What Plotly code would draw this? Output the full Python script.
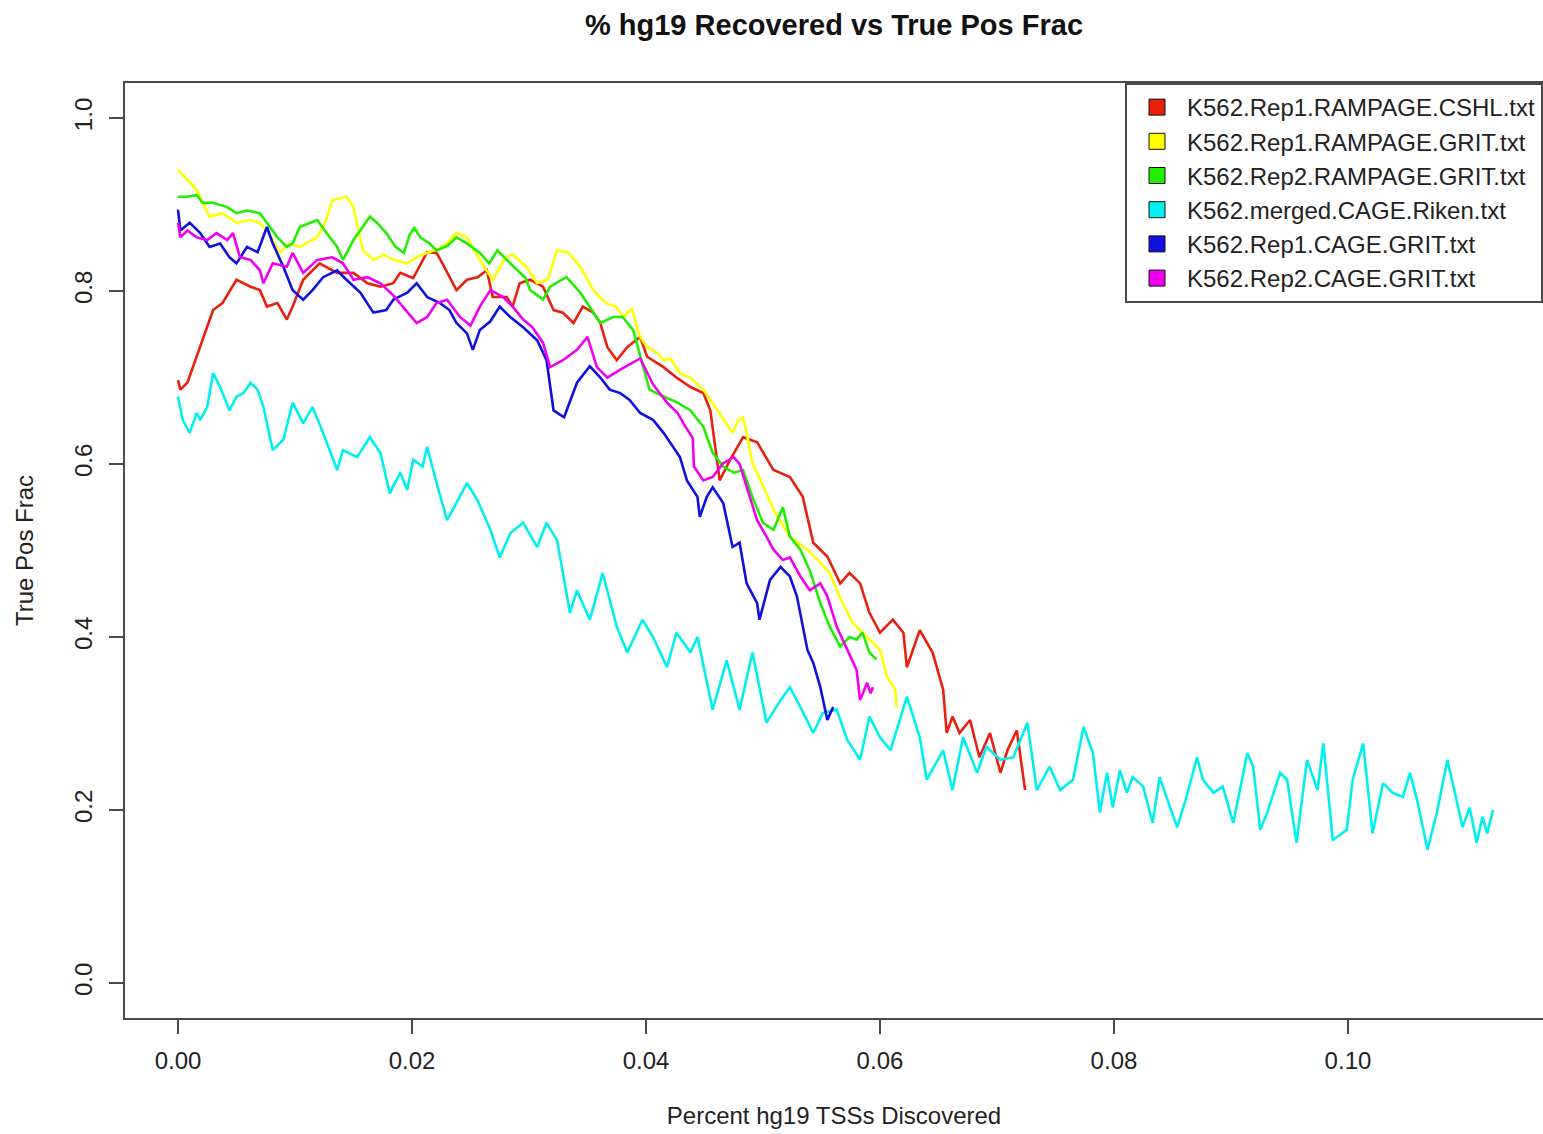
import plotly.graph_objects as go

# ---------------- data ----------------
series_names = [
    "K562.Rep1.RAMPAGE.CSHL.txt",
    "K562.Rep1.RAMPAGE.GRIT.txt",
    "K562.Rep2.RAMPAGE.GRIT.txt",
    "K562.merged.CAGE.Riken.txt",
    "K562.Rep1.CAGE.GRIT.txt",
    "K562.Rep2.CAGE.GRIT.txt",
]
series_colors = ["#e8200c", "#ffff00", "#22ee00", "#00f0f0", "#1010e0", "#f000f0"]

red_x = [0.0000, 0.0002, 0.0008, 0.0016, 0.0030, 0.0038, 0.0050, 0.0062, 0.0070, 0.0076,
         0.0085, 0.0093, 0.0098, 0.0107, 0.0121, 0.0136, 0.0150, 0.0162, 0.0173, 0.0184,
         0.0190, 0.0201, 0.0213, 0.0221, 0.0226, 0.0238, 0.0247, 0.0256, 0.0264, 0.0269,
         0.0281, 0.0286, 0.0292, 0.0301, 0.0312, 0.0321, 0.0329, 0.0338, 0.0346, 0.0355,
         0.0361, 0.0367, 0.0375, 0.0384, 0.0395, 0.0401, 0.0415, 0.0426, 0.0438, 0.0449,
         0.0455, 0.0463, 0.0472, 0.0483, 0.0495, 0.0509, 0.0523, 0.0534, 0.0543, 0.0555,
         0.0566, 0.0574, 0.0583, 0.0591, 0.0600, 0.0611, 0.0620, 0.0623, 0.0634, 0.0645,
         0.0654, 0.0657, 0.0662, 0.0668, 0.0677, 0.0685, 0.0694, 0.0703, 0.0709, 0.0717,
         0.0722, 0.0724]
red_y = [0.697, 0.686, 0.694, 0.724, 0.778, 0.786, 0.813, 0.805, 0.801, 0.782,
         0.786, 0.767, 0.782, 0.813, 0.832, 0.821, 0.821, 0.809, 0.805, 0.809,
         0.821, 0.815, 0.845, 0.844, 0.832, 0.801, 0.813, 0.816, 0.824, 0.793,
         0.793, 0.782, 0.809, 0.813, 0.805, 0.778, 0.775, 0.763, 0.782, 0.775,
         0.763, 0.735, 0.720, 0.735, 0.747, 0.724, 0.712, 0.700, 0.689, 0.682,
         0.662, 0.581, 0.605, 0.631, 0.625, 0.593, 0.585, 0.562, 0.509, 0.493,
         0.462, 0.474, 0.462, 0.428, 0.405, 0.420, 0.405, 0.365, 0.408, 0.382,
         0.339, 0.289, 0.308, 0.289, 0.304, 0.261, 0.289, 0.243, 0.269, 0.292,
         0.243, 0.223]

yellow_x = [0.0000, 0.0008, 0.0016, 0.0027, 0.0038, 0.0050, 0.0062, 0.0070, 0.0078, 0.0087,
            0.0095, 0.0104, 0.0119, 0.0126, 0.0132, 0.0144, 0.0150, 0.0158, 0.0167, 0.0176,
            0.0184, 0.0196, 0.0205, 0.0213, 0.0224, 0.0230, 0.0238, 0.0247, 0.0258, 0.0269,
            0.0280, 0.0286, 0.0298, 0.0307, 0.0316, 0.0324, 0.0333, 0.0344, 0.0355, 0.0366,
            0.0374, 0.0381, 0.0388, 0.0393, 0.0395, 0.0401, 0.0410, 0.0415, 0.0421, 0.0429,
            0.0438, 0.0449, 0.0457, 0.0462, 0.0469, 0.0474, 0.0479, 0.0483, 0.0486, 0.0491,
            0.0503, 0.0509, 0.0523, 0.0538, 0.0549, 0.0557, 0.0568, 0.0577, 0.0589, 0.0600,
            0.0606, 0.0613, 0.0614]
yellow_y = [0.940, 0.928, 0.917, 0.886, 0.890, 0.879, 0.882, 0.879, 0.866, 0.844,
            0.855, 0.851, 0.862, 0.880, 0.905, 0.909, 0.897, 0.847, 0.836, 0.842,
            0.836, 0.832, 0.840, 0.844, 0.850, 0.855, 0.867, 0.862, 0.836, 0.813,
            0.839, 0.842, 0.828, 0.809, 0.813, 0.847, 0.845, 0.828, 0.801, 0.786,
            0.782, 0.770, 0.780, 0.755, 0.747, 0.735, 0.728, 0.720, 0.722, 0.705,
            0.700, 0.686, 0.670, 0.659, 0.645, 0.636, 0.651, 0.654, 0.636, 0.601,
            0.566, 0.547, 0.516, 0.501, 0.486, 0.474, 0.439, 0.416, 0.400, 0.385,
            0.354, 0.339, 0.319]

green_x = [0.0000, 0.0008, 0.0016, 0.0021, 0.0030, 0.0042, 0.0050, 0.0059, 0.0070, 0.0076,
           0.0085, 0.0093, 0.0098, 0.0104, 0.0113, 0.0119, 0.0127, 0.0136, 0.0141, 0.0150,
           0.0164, 0.0170, 0.0178, 0.0186, 0.0193, 0.0198, 0.0202, 0.0207, 0.0215, 0.0221,
           0.0230, 0.0238, 0.0247, 0.0258, 0.0266, 0.0273, 0.0281, 0.0290, 0.0297, 0.0301,
           0.0312, 0.0318, 0.0332, 0.0344, 0.0352, 0.0361, 0.0372, 0.0380, 0.0389, 0.0397,
           0.0403, 0.0415, 0.0427, 0.0438, 0.0449, 0.0457, 0.0466, 0.0475, 0.0483, 0.0491,
           0.0500, 0.0509, 0.0517, 0.0523, 0.0532, 0.0540, 0.0549, 0.0557, 0.0566, 0.0574,
           0.0580, 0.0585, 0.0591, 0.0597]
green_y = [0.909, 0.909, 0.911, 0.902, 0.902, 0.897, 0.890, 0.893, 0.890, 0.879,
           0.862, 0.851, 0.855, 0.874, 0.879, 0.882, 0.867, 0.851, 0.836, 0.859,
           0.886, 0.879, 0.867, 0.851, 0.844, 0.865, 0.873, 0.862, 0.855, 0.847,
           0.852, 0.862, 0.855, 0.844, 0.832, 0.847, 0.836, 0.824, 0.815, 0.801,
           0.790, 0.805, 0.816, 0.798, 0.782, 0.763, 0.770, 0.770, 0.755, 0.717,
           0.686, 0.678, 0.671, 0.662, 0.643, 0.613, 0.597, 0.590, 0.593, 0.562,
           0.532, 0.524, 0.550, 0.516, 0.501, 0.477, 0.439, 0.412, 0.389, 0.400,
           0.397, 0.405, 0.382, 0.374]

cyan_x = [0.0000, 0.0004, 0.0010, 0.0016, 0.0019, 0.0025, 0.0030, 0.0036, 0.0044, 0.0050,
          0.0056, 0.0062, 0.0068, 0.0073, 0.0081, 0.0090, 0.0098, 0.0107, 0.0115, 0.0124,
          0.0136, 0.0141, 0.0153, 0.0164, 0.0173, 0.0181, 0.0190, 0.0196, 0.0201, 0.0209,
          0.0213, 0.0221, 0.0230, 0.0238, 0.0247, 0.0256, 0.0267, 0.0275, 0.0284, 0.0295,
          0.0307, 0.0315, 0.0324, 0.0335, 0.0341, 0.0352, 0.0363, 0.0375, 0.0384, 0.0397,
          0.0406, 0.0418, 0.0426, 0.0438, 0.0444, 0.0457, 0.0469, 0.0480, 0.0491, 0.0503,
          0.0515, 0.0523, 0.0532, 0.0543, 0.0551, 0.0563, 0.0572, 0.0583, 0.0591, 0.0600,
          0.0609, 0.0623, 0.0634, 0.0640, 0.0649, 0.0654, 0.0662, 0.0671, 0.0683, 0.0691,
          0.0703, 0.0714, 0.0726, 0.0734, 0.0745, 0.0754, 0.0765, 0.0774, 0.0782, 0.0788,
          0.0794, 0.0799, 0.0805, 0.0811, 0.0816, 0.0825, 0.0833, 0.0839, 0.0848, 0.0854,
          0.0862, 0.0871, 0.0876, 0.0885, 0.0893, 0.0902, 0.0914, 0.0919, 0.0925, 0.0931,
          0.0942, 0.0948, 0.0956, 0.0965, 0.0974, 0.0979, 0.0987, 0.0999, 0.1004, 0.1013,
          0.1021, 0.1030, 0.1038, 0.1047, 0.1053, 0.1059, 0.1068, 0.1076, 0.1085, 0.1090,
          0.1098, 0.1104, 0.1110, 0.1115, 0.1119, 0.1124]
cyan_y = [0.678, 0.651, 0.636, 0.659, 0.651, 0.666, 0.705, 0.689, 0.662, 0.678,
          0.682, 0.694, 0.686, 0.666, 0.616, 0.628, 0.671, 0.647, 0.666, 0.636,
          0.593, 0.616, 0.608, 0.631, 0.613, 0.566, 0.590, 0.570, 0.605, 0.597,
          0.620, 0.578, 0.535, 0.555, 0.578, 0.558, 0.524, 0.492, 0.520, 0.532,
          0.504, 0.532, 0.512, 0.428, 0.454, 0.420, 0.474, 0.412, 0.382, 0.420,
          0.400, 0.365, 0.405, 0.382, 0.400, 0.316, 0.373, 0.316, 0.382, 0.301,
          0.327, 0.342, 0.319, 0.289, 0.312, 0.316, 0.281, 0.258, 0.308, 0.284,
          0.269, 0.331, 0.284, 0.235, 0.258, 0.269, 0.223, 0.284, 0.243, 0.273,
          0.258, 0.261, 0.301, 0.223, 0.250, 0.223, 0.235, 0.296, 0.266, 0.197,
          0.243, 0.203, 0.246, 0.220, 0.238, 0.227, 0.185, 0.238, 0.203, 0.180,
          0.215, 0.261, 0.235, 0.220, 0.227, 0.185, 0.266, 0.250, 0.177, 0.197,
          0.243, 0.235, 0.162, 0.258, 0.223, 0.277, 0.165, 0.177, 0.235, 0.277,
          0.173, 0.231, 0.220, 0.215, 0.243, 0.212, 0.154, 0.197, 0.258, 0.227,
          0.180, 0.203, 0.162, 0.192, 0.173, 0.200]

blue_x = [0.0000, 0.0002, 0.0010, 0.0019, 0.0027, 0.0036, 0.0044, 0.0050, 0.0059, 0.0068,
          0.0076, 0.0081, 0.0090, 0.0098, 0.0107, 0.0115, 0.0124, 0.0136, 0.0144, 0.0156,
          0.0167, 0.0178, 0.0184, 0.0196, 0.0204, 0.0213, 0.0224, 0.0232, 0.0238, 0.0247,
          0.0252, 0.0258, 0.0267, 0.0275, 0.0284, 0.0295, 0.0307, 0.0315, 0.0321, 0.0330,
          0.0341, 0.0352, 0.0361, 0.0369, 0.0378, 0.0386, 0.0395, 0.0406, 0.0415, 0.0429,
          0.0435, 0.0444, 0.0446, 0.0452, 0.0457, 0.0466, 0.0474, 0.0480, 0.0486, 0.0495,
          0.0497, 0.0506, 0.0515, 0.0523, 0.0529, 0.0538, 0.0543, 0.0549, 0.0555, 0.0560]
blue_y = [0.894, 0.870, 0.879, 0.867, 0.851, 0.855, 0.839, 0.832, 0.851, 0.845,
          0.874, 0.855, 0.828, 0.801, 0.790, 0.801, 0.816, 0.824, 0.813, 0.798,
          0.775, 0.778, 0.790, 0.798, 0.809, 0.793, 0.786, 0.778, 0.763, 0.751,
          0.732, 0.755, 0.765, 0.782, 0.770, 0.758, 0.743, 0.720, 0.662, 0.654,
          0.694, 0.713, 0.700, 0.686, 0.682, 0.674, 0.659, 0.651, 0.636, 0.608,
          0.581, 0.562, 0.539, 0.562, 0.573, 0.555, 0.504, 0.509, 0.462, 0.439,
          0.420, 0.466, 0.481, 0.470, 0.447, 0.385, 0.370, 0.342, 0.304, 0.319]

magenta_x = [0.0000, 0.0002, 0.0008, 0.0016, 0.0025, 0.0033, 0.0042, 0.0047, 0.0053, 0.0062,
             0.0070, 0.0073, 0.0081, 0.0093, 0.0098, 0.0107, 0.0119, 0.0132, 0.0141, 0.0150,
             0.0162, 0.0173, 0.0184, 0.0196, 0.0204, 0.0213, 0.0221, 0.0230, 0.0241, 0.0250,
             0.0258, 0.0267, 0.0278, 0.0286, 0.0295, 0.0303, 0.0312, 0.0318, 0.0329, 0.0341,
             0.0350, 0.0358, 0.0367, 0.0378, 0.0389, 0.0395, 0.0406, 0.0418, 0.0427, 0.0432,
             0.0440, 0.0441, 0.0449, 0.0457, 0.0466, 0.0475, 0.0480, 0.0486, 0.0495, 0.0503,
             0.0509, 0.0517, 0.0523, 0.0532, 0.0540, 0.0549, 0.0555, 0.0563, 0.0572, 0.0580,
             0.0583, 0.0589, 0.0592, 0.0594]
magenta_y = [0.879, 0.862, 0.870, 0.862, 0.859, 0.867, 0.859, 0.867, 0.839, 0.836,
             0.824, 0.809, 0.832, 0.828, 0.844, 0.821, 0.836, 0.839, 0.832, 0.813,
             0.816, 0.809, 0.795, 0.776, 0.763, 0.770, 0.786, 0.790, 0.770, 0.760,
             0.782, 0.801, 0.793, 0.782, 0.767, 0.758, 0.740, 0.712, 0.720, 0.732,
             0.747, 0.712, 0.700, 0.709, 0.717, 0.722, 0.692, 0.671, 0.659, 0.647,
             0.630, 0.597, 0.581, 0.585, 0.601, 0.608, 0.600, 0.573, 0.535, 0.516,
             0.501, 0.489, 0.492, 0.470, 0.454, 0.462, 0.447, 0.412, 0.385, 0.362,
             0.327, 0.347, 0.335, 0.342]

series_x = [red_x, yellow_x, green_x, cyan_x, blue_x, magenta_x]
series_y = [red_y, yellow_y, green_y, cyan_y, blue_y, magenta_y]

x_tick_values = [0.00, 0.02, 0.04, 0.06, 0.08, 0.10]
x_tick_labels = ["0.00", "0.02", "0.04", "0.06", "0.08", "0.10"]
y_tick_values = [0.0, 0.2, 0.4, 0.6, 0.8, 1.0]
y_tick_labels = ["0.0", "0.2", "0.4", "0.6", "0.8", "1.0"]

# ---------------- figure ----------------
FONT = "Liberation Sans, Arial, Helvetica, sans-serif"
AXIS_COLOR = "#4a4a4a"

fig = go.Figure()

for name, color, xs, ys in zip(series_names, series_colors, series_x, series_y):
    fig.add_trace(go.Scatter(
        x=xs, y=ys, mode="lines", name=name,
        line=dict(color=color, width=2.6),
        showlegend=False, hoverinfo="skip",
    ))

# legend entries drawn as filled squares (as in R's legend with fill=)
for name, color in zip(series_names, series_colors):
    fig.add_trace(go.Scatter(
        x=[None], y=[None], mode="markers", name=name,
        marker=dict(symbol="square", size=16, color=color,
                    line=dict(color="#111111", width=1)),
        showlegend=True,
    ))

fig.update_layout(
    width=1543, height=1134,
    template="none",
    paper_bgcolor="white", plot_bgcolor="white",
    margin=dict(l=125, r=0, t=83, b=116, pad=0),
    font=dict(family=FONT, size=24, color="#222222"),
    title=dict(
        text="<b>% hg19 Recovered vs True Pos Frac</b>",
        x=0.5, xref="paper", xanchor="center",
        y=1 - 25 / 1134, yref="container", yanchor="middle",
        font=dict(family=FONT, size=29, color="#111111"),
    ),
    showlegend=True,
    legend=dict(
        x=1, xanchor="right", y=1, yanchor="top",
        xref="paper", yref="paper",
        bgcolor="white", bordercolor=AXIS_COLOR, borderwidth=2,
        font=dict(family=FONT, size=24, color="#222222"),
        traceorder="normal",
        itemwidth=50,
    ),
)

fig.update_xaxes(
    range=[-0.00453, 0.11667],
    tickmode="array", tickvals=x_tick_values, ticktext=x_tick_labels,
    ticks="outside", ticklen=14, tickwidth=1.5, tickcolor=AXIS_COLOR,
    showline=True, linecolor=AXIS_COLOR, linewidth=2, mirror=True,
    showgrid=False, zeroline=False, automargin=False,
    tickfont=dict(family=FONT, size=24, color="#222222"),
    ticklabelstandoff=6,
    title=dict(text="Percent hg19 TSSs Discovered", standoff=34,
               font=dict(family=FONT, size=24, color="#222222")),
)
fig.update_yaxes(
    range=[-0.0405, 1.0405],
    tickmode="array", tickvals=y_tick_values, ticktext=y_tick_labels,
    ticks="outside", ticklen=14, tickwidth=1.5, tickcolor=AXIS_COLOR,
    tickangle=-90,
    showline=True, linecolor=AXIS_COLOR, linewidth=2, mirror=True,
    showgrid=False, zeroline=False, automargin=False,
    tickfont=dict(family=FONT, size=24, color="#222222"),
    ticklabelstandoff=7,
    title=dict(text="True Pos Frac", standoff=30,
               font=dict(family=FONT, size=24, color="#222222")),
)

fig.write_html("out.html")
